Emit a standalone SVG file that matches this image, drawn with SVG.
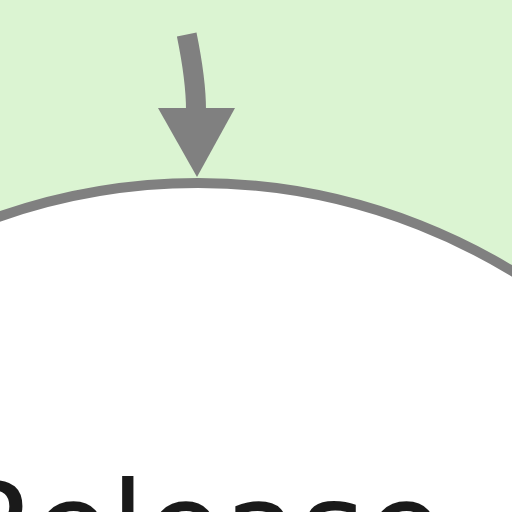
<svg xmlns="http://www.w3.org/2000/svg" width="512" height="512" viewBox="0 0 512 512">
<style>
.edge{fill:none;stroke:#808080;stroke-width:20}
.head{fill:#808080;stroke:none}
.node{fill:#ffffff;stroke:#808080;stroke-width:10}
.label{font-family:"DejaVu Sans",sans-serif;font-size:126px;fill:#1a1a1a;text-anchor:middle}
</style>
<g id="cluster"><rect x="0" y="0" width="512" height="512" fill="#dbf4d2"/></g>
<g id="node-release">
<ellipse class="node" cx="198" cy="783" rx="602" ry="600"/>
<text class="label" x="197" y="572">Release</text>
</g>
<g id="connectors">
<path class="edge" d="M186.7,34.5 Q196,80 196,110"/>
<polygon class="head" points="158,108 235,108 197,177"/>
</g>
</svg>
